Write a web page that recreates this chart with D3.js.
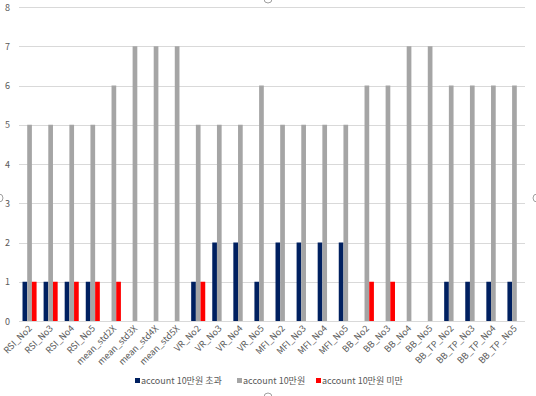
<!DOCTYPE html>
<html>
<head>
<meta charset="utf-8">
<script src="https://cdn.jsdelivr.net/npm/d3@7"></script>
<style>
  body { margin: 0; background: #fff; }
  svg { display: block; }
  text { font-family: "Noto Sans CJK KR", "Noto Sans", sans-serif; fill: #595959; }
</style>
</head>
<body>
<svg id="chart" width="536" height="396"></svg>
<script>
// categories (x axis)
var categories = ["RSI_No2", "RSI_No3", "RSI_No4", "RSI_No5",
    "mean_std2X", "mean_std3X", "mean_std4X", "mean_std5X",
    "VR_No2", "VR_No3", "VR_No4", "VR_No5",
    "MFI_No2", "MFI_No3", "MFI_No4", "MFI_No5",
    "BB_No2", "BB_No3", "BB_No4", "BB_No5",
    "BB_TP_No2", "BB_TP_No3", "BB_TP_No4", "BB_TP_No5"];

// series
var seriesNames = ["account 10만원 초과", "account 10만원", "account 10만원 미만"];
var over   = [1, 1, 1, 1, 0, 0, 0, 0, 1, 2, 2, 1, 2, 2, 2, 2, 0, 0, 0, 0, 1, 1, 1, 1];
var total  = [5, 5, 5, 5, 6, 7, 7, 7, 5, 5, 5, 6, 5, 5, 5, 5, 6, 6, 7, 7, 6, 6, 6, 6];
var under  = [1, 1, 1, 1, 1, 0, 0, 0, 1, 0, 0, 0, 0, 0, 0, 0, 1, 1, 0, 0, 0, 0, 0, 0];
var colors = ["#002060", "#a5a5a5", "#ff0000"];

// y ticks
var yTicks = [0, 1, 2, 3, 4, 5, 6, 7, 8];

var svg = d3.select("#chart");
// plot area (window.top is reserved, so use other names)
var plotL = 19, plotR = 525, plotT = 7, plotB = 321;

var x = d3.scaleBand().domain(categories).range([plotL, plotR]).paddingInner(0.333).paddingOuter(0.1667);
var sub = d3.scaleBand().domain([0, 1, 2]).range([0, x.bandwidth()]);
var y = d3.scaleLinear().domain([0, 8]).range([plotB, plotT]);

// gridlines
svg.append("g").selectAll("line")
    .data(yTicks)
    .enter().append("line")
    .attr("x1", plotL).attr("x2", plotR)
    .attr("y1", function (d) { return Math.round(y(d)) + 0.5; })
    .attr("y2", function (d) { return Math.round(y(d)) + 0.5; })
    .attr("stroke", "#d9d9d9").attr("stroke-width", 1);

// y axis labels
svg.append("g").selectAll("text")
    .data(yTicks)
    .enter().append("text")
    .attr("x", 10)
    .attr("y", function (d) { return y(d) + 3.5; })
    .attr("text-anchor", "end")
    .style("font-size", "9px")
    .text(function (d) { return d; });

// bars
var series = [over, total, under];
series.forEach(function (vals, s) {
    svg.append("g").selectAll("rect")
        .data(vals)
        .enter().append("rect")
        .attr("x", function (d, i) { return x(categories[i]) + sub(s); })
        .attr("width", sub.bandwidth())
        .attr("y", function (d) { return y(d); })
        .attr("height", function (d) { return y(0) - y(d); })
        .attr("fill", colors[s]);
});

// x labels
svg.append("g").selectAll("text")
    .data(categories)
    .enter().append("text")
    .attr("text-anchor", "end")
    .attr("transform", function (d) {
        var cx = x(d) + x.bandwidth() / 2 + 3;
        return "translate(" + cx + ",329) rotate(-45)";
    })
    .style("font-size", "9px")
    .text(function (d) { return d; });

// legend
var legendX = [135, 237, 316];
var lg = svg.append("g");
seriesNames.forEach(function (name, i) {
    lg.append("rect")
        .attr("x", legendX[i]).attr("y", 378)
        .attr("width", 5).attr("height", 5)
        .attr("fill", colors[i]);
    lg.append("text")
        .attr("x", legendX[i] + 6).attr("y", 384)
        .style("font-size", "9px")
        .text(name);
});

// selection handles of the chart frame
var handles = [[268, -1], [268, 397], [-1, 198], [537, 198]];
svg.append("g").selectAll("circle")
    .data(handles)
    .enter().append("circle")
    .attr("cx", function (d) { return d[0]; })
    .attr("cy", function (d) { return d[1]; })
    .attr("r", 4)
    .attr("fill", "#fff")
    .attr("stroke", "#a0a0a0");
</script>
</body>
</html>
